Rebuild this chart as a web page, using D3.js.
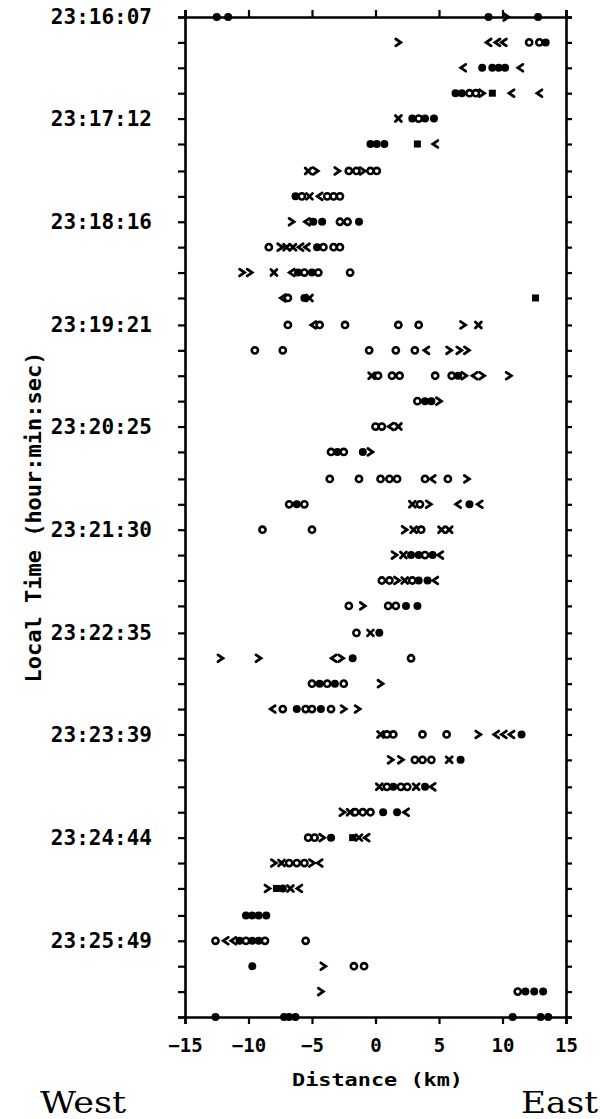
<!DOCTYPE html>
<html>
<head>
<meta charset="utf-8">
<script src="https://cdn.jsdelivr.net/npm/d3@7"></script>
<style>
  body { margin: 0; background: #fff; }
</style>
</head>
<body>
<div id="chart"></div>
<script>
// one radar sweep every ~16 s
const sweepTimes = [
  "23:16:07.0", "23:16:23.2", "23:16:39.3", "23:16:55.5", "23:17:11.7",
  "23:17:27.9", "23:17:44.0", "23:18:00.2", "23:18:16.4", "23:18:32.5",
  "23:18:48.7", "23:19:04.9", "23:19:21.0", "23:19:37.2", "23:19:53.4",
  "23:20:09.6", "23:20:25.7", "23:20:41.9", "23:20:58.1", "23:21:14.2",
  "23:21:30.4", "23:21:46.6", "23:22:02.7", "23:22:18.9", "23:22:35.1",
  "23:22:51.3", "23:23:07.4", "23:23:23.6", "23:23:39.8", "23:23:55.9",
  "23:24:12.1", "23:24:28.3", "23:24:44.4", "23:25:00.6", "23:25:16.8",
  "23:25:33.0", "23:25:49.1", "23:26:05.3", "23:26:21.5", "23:26:37.6"
];

// labels shown on every 4th sweep
const timeLabels = [
  "23:16:07", "23:17:12", "23:18:16", "23:19:21", "23:20:25",
  "23:21:30", "23:22:35", "23:23:39", "23:24:44", "23:25:49"
];

const distanceTicks = [-15, -10, -5, 0, 5, 10, 15];

// echoes per sweep: [distance km, symbol]
// o open circle, f filled circle, s filled square, l "<", r ">", x cross
const sweepEchoes = [
  [[-12.5,'f'],[-11.6,'f'],[8.9,'f'],[10.3,'r'],[12.8,'f']],
  [[1.8,'r'],[8.9,'l'],[9.6,'l'],[10.1,'l'],[12.1,'o'],[12.9,'o'],[13.4,'f']],
  [[6.9,'l'],[8.4,'f'],[9.2,'f'],[9.7,'f'],[10.2,'f'],[11.4,'l']],
  [[6.3,'f'],[6.8,'f'],[7.4,'o'],[7.9,'o'],[8.4,'r'],[9.2,'s'],[10.7,'l'],[12.9,'l']],
  [[1.8,'x'],[2.9,'f'],[3.4,'o'],[3.9,'f'],[4.6,'f']],
  [[-0.4,'f'],[0.1,'f'],[0.7,'f'],[3.3,'s'],[4.7,'l']],
  [[-5.3,'x'],[-4.7,'r'],[-3.0,'r'],[-2.1,'o'],[-1.5,'o'],[-1.0,'r'],[-0.4,'o'],[0.1,'o']],
  [[-6.3,'f'],[-5.8,'o'],[-5.2,'x'],[-4.4,'l'],[-3.8,'o'],[-3.3,'o'],[-2.8,'o']],
  [[-6.6,'r'],[-5.4,'l'],[-4.9,'f'],[-4.2,'f'],[-2.8,'o'],[-2.2,'o'],[-1.3,'f']],
  [[-8.4,'o'],[-7.5,'r'],[-7.0,'x'],[-6.5,'x'],[-5.9,'l'],[-5.4,'l'],[-4.6,'f'],[-4.1,'o'],[-3.3,'o'],[-2.8,'o']],
  [[-10.5,'r'],[-9.9,'r'],[-8.0,'x'],[-6.6,'l'],[-6.1,'f'],[-5.6,'o'],[-5.0,'f'],[-4.5,'o'],[-2.0,'o']],
  [[-7.3,'l'],[-6.9,'o'],[-5.6,'f'],[-5.2,'x'],[12.6,'s']],
  [[-6.9,'o'],[-4.9,'l'],[-4.4,'o'],[-2.4,'o'],[1.8,'o'],[3.4,'o'],[6.9,'r'],[8.1,'x']],
  [[-9.5,'o'],[-7.3,'o'],[-0.5,'o'],[1.6,'o'],[3.1,'o'],[4.0,'l'],[5.8,'r'],[6.6,'r'],[7.2,'r']],
  [[-0.3,'x'],[0.2,'o'],[1.3,'o'],[1.9,'o'],[4.7,'o'],[6.0,'o'],[6.5,'f'],[7.0,'r'],[7.8,'l'],[8.4,'r'],[10.5,'r']],
  [[3.3,'o'],[3.9,'f'],[4.4,'f'],[5.0,'r']],
  [[0.0,'o'],[0.5,'o'],[1.2,'l'],[1.8,'x']],
  [[-3.5,'o'],[-3.0,'f'],[-2.5,'o'],[-1.0,'f'],[-0.4,'r']],
  [[-3.6,'o'],[-1.3,'o'],[0.4,'o'],[1.1,'o'],[1.7,'o'],[3.9,'o'],[4.5,'l'],[5.7,'o'],[7.2,'r']],
  [[-6.8,'o'],[-6.2,'f'],[-5.6,'o'],[2.9,'x'],[3.5,'o'],[4.2,'r'],[6.5,'l'],[7.4,'f'],[8.2,'l']],
  [[-8.9,'o'],[-5.0,'o'],[2.3,'r'],[3.0,'x'],[3.6,'o'],[5.2,'x'],[5.8,'x']],
  [[1.5,'r'],[2.2,'x'],[2.8,'f'],[3.4,'f'],[3.9,'o'],[4.5,'f'],[5.1,'l']],
  [[0.5,'o'],[1.1,'o'],[1.7,'r'],[2.3,'x'],[2.9,'o'],[3.4,'f'],[4.1,'f'],[4.7,'l']],
  [[-2.1,'o'],[-1.0,'r'],[1.0,'o'],[1.6,'o'],[2.4,'f'],[3.3,'f']],
  [[-1.5,'o'],[-0.4,'x'],[0.3,'f']],
  [[-12.2,'r'],[-9.2,'r'],[-3.3,'l'],[-2.7,'r'],[-1.8,'f'],[2.8,'o']],
  [[-5.0,'o'],[-4.4,'f'],[-3.8,'o'],[-3.2,'f'],[-2.5,'o'],[0.4,'r']],
  [[-8.1,'l'],[-7.3,'o'],[-6.2,'f'],[-5.5,'o'],[-5.0,'o'],[-4.3,'f'],[-3.5,'o'],[-2.5,'r'],[-1.4,'r']],
  [[0.4,'x'],[0.9,'o'],[1.4,'o'],[3.7,'o'],[5.6,'o'],[8.1,'r'],[9.5,'l'],[10.1,'l'],[10.7,'l'],[11.5,'f']],
  [[1.2,'r'],[2.0,'r'],[3.1,'o'],[3.7,'o'],[4.4,'o'],[5.8,'x'],[6.7,'f']],
  [[0.3,'x'],[0.9,'o'],[1.4,'f'],[2.0,'o'],[2.5,'o'],[3.2,'x'],[3.9,'f'],[4.5,'l']],
  [[-2.6,'r'],[-2.0,'x'],[-1.6,'o'],[-1.0,'o'],[-0.4,'o'],[0.6,'f'],[1.7,'f'],[2.4,'l']],
  [[-5.3,'o'],[-4.8,'o'],[-4.2,'r'],[-3.5,'f'],[-1.8,'s'],[-1.3,'x'],[-0.7,'l']],
  [[-8.0,'r'],[-7.4,'x'],[-6.8,'o'],[-6.2,'o'],[-5.6,'o'],[-5.0,'r'],[-4.4,'l']],
  [[-8.5,'r'],[-7.8,'s'],[-7.3,'f'],[-6.7,'x'],[-6.0,'l']],
  [[-10.2,'f'],[-9.7,'f'],[-9.2,'f'],[-8.6,'f']],
  [[-12.6,'o'],[-11.8,'l'],[-11.2,'l'],[-10.7,'f'],[-10.2,'o'],[-9.7,'f'],[-9.2,'f'],[-8.7,'o'],[-5.5,'o']],
  [[-9.7,'f'],[-4.1,'r'],[-1.7,'o'],[-0.9,'o']],
  [[-4.3,'r'],[11.2,'o'],[11.8,'f'],[12.5,'f'],[13.2,'f']],
  [[-12.6,'f'],[-7.2,'f'],[-6.8,'f'],[-6.3,'f'],[10.8,'f'],[13.0,'f'],[13.6,'f']]
];

const width = 612, height = 1119;
const margin = { top: 17, right: 46, bottom: 102, left: 185 };
const monoFont = "'DejaVu Sans Mono', 'Liberation Mono', monospace";

const parseTime = d3.timeParse("%H:%M:%S.%L");
const times = sweepTimes.map(parseTime);

const svg = d3.select("#chart").append("svg")
  .attr("width", width)
  .attr("height", height);

const x = d3.scaleLinear()
  .domain([-15, 15])
  .range([margin.left, width - margin.right]);

const y = d3.scaleTime()
  .domain([times[0], times[times.length - 1]])
  .range([margin.top, height - margin.bottom]);

// echoes
const marks = svg.append("g");
sweepEchoes.forEach((row, i) => {
  row.forEach(([km, sym]) => {
    const g = marks.append("g")
      .attr("transform", `translate(${x(km)},${y(times[i])})`);
    if (sym === 'o') {
      g.append("circle").attr("r", 3.1).attr("fill", "none")
        .attr("stroke", "#000").attr("stroke-width", 2.6);
    } else if (sym === 'f') {
      g.append("circle").attr("r", 4).attr("fill", "#000");
    } else if (sym === 's') {
      g.append("rect").attr("x", -3.5).attr("y", -3.5)
        .attr("width", 7).attr("height", 7).attr("fill", "#000");
    } else {
      const d = sym === 'l' ? "M2.6,-3.4L-2.4,0L2.6,3.4"
              : sym === 'r' ? "M-2.6,-3.4L2.4,0L-2.6,3.4"
              : "M-3,-3L3,3M-3,3L3,-3";
      g.append("path").attr("d", d).attr("fill", "none")
        .attr("stroke", "#000").attr("stroke-width", 2.8)
        .attr("stroke-linecap", "round");
    }
  });
});

// axes
function styleAxis(g) {
  g.select(".domain").attr("stroke-width", 2.6);
  g.selectAll(".tick line").attr("stroke-width", 2.2);
  g.attr("font-family", monoFont).attr("font-weight", "bold");
}

svg.append("g")
  .attr("transform", `translate(${margin.left},0)`)
  .call(d3.axisLeft(y).tickValues(times).tickSizeOuter(0).tickSize(7)
    .tickPadding(26)
    .tickFormat((d, i) => i % 4 === 0 ? timeLabels[i / 4] : ""))
  .call(styleAxis)
  .call(g => g.selectAll(".tick text")
    .attr("font-size", 21)
    .attr("fill", "#000"));

svg.append("g")
  .attr("transform", `translate(${width - margin.right},0)`)
  .call(d3.axisRight(y).tickValues(times).tickSizeOuter(0).tickSize(6).tickFormat(""))
  .call(styleAxis);

svg.append("g")
  .attr("transform", `translate(0,${margin.top})`)
  .call(d3.axisTop(x).tickValues(distanceTicks).tickSizeOuter(0).tickSize(7).tickFormat(""))
  .call(styleAxis);

svg.append("g")
  .attr("transform", `translate(0,${height - margin.bottom})`)
  .call(d3.axisBottom(x).tickValues(distanceTicks).tickSizeOuter(0).tickSize(7)
    .tickPadding(15))
  .call(styleAxis)
  .call(g => g.selectAll(".tick text")
    .attr("font-size", 19)
    .attr("fill", "#000"));

// titles
svg.append("text")
  .attr("transform", `translate(41,${(margin.top + height - margin.bottom) / 2}) rotate(-90)`)
  .attr("text-anchor", "middle")
  .attr("font-family", monoFont)
  .attr("font-weight", "bold")
  .attr("font-size", 22)
  .text("Local Time (hour:min:sec)");

svg.append("text")
  .attr("x", 292)
  .attr("y", 1086)
  .attr("font-family", monoFont)
  .attr("font-weight", "bold")
  .attr("font-size", 18)
  .attr("textLength", 171)
  .attr("lengthAdjust", "spacingAndGlyphs")
  .text("Distance (km)");

svg.append("text")
  .attr("x", 40)
  .attr("y", 1113)
  .attr("font-family", "'DejaVu Serif', serif")
  .attr("font-size", 30)
  .attr("textLength", 86)
  .attr("lengthAdjust", "spacingAndGlyphs")
  .text("West");

svg.append("text")
  .attr("x", 521)
  .attr("y", 1113)
  .attr("font-family", "'DejaVu Serif', serif")
  .attr("font-size", 30)
  .attr("textLength", 77)
  .attr("lengthAdjust", "spacingAndGlyphs")
  .text("East");
</script>
</body>
</html>
